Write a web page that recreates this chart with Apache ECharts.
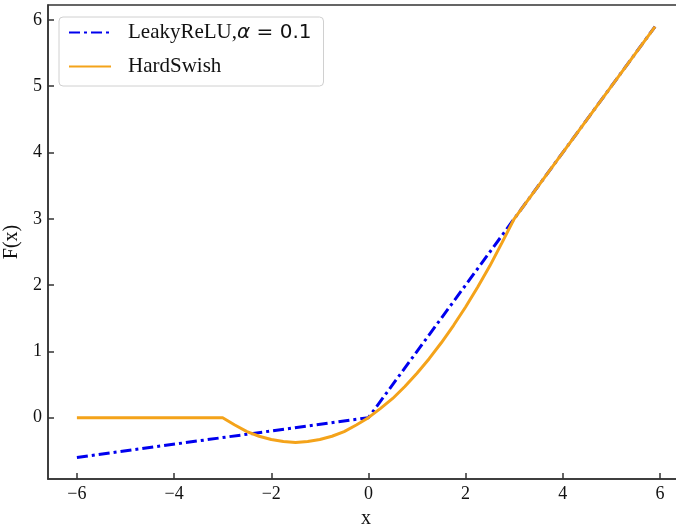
<!DOCTYPE html>
<html>
<head>
<meta charset="utf-8">
<script src="https://cdn.jsdelivr.net/npm/echarts@6/dist/echarts.min.js"></script>
<style>
	html, body { margin: 0; padding: 0; background: #fff; }
	#chart { width: 676px; height: 528px; }
</style>
</head>
<body>
<div id="chart"></div>
<script>
"use strict";

// LeakyReLU, alpha = 0.1 (straight pieces, read at the corners)
var leakyX = [-6, 0, 5.9];
var leakyY = [-0.6, 0, 5.9];

// HardSwish
var swishX = [-6, -3, -2.75, -2.5, -2.25, -2, -1.75, -1.5, -1.25, -1, -0.75, -0.5, -0.25,
	0, 0.25, 0.5, 0.75, 1, 1.25, 1.5, 1.75, 2, 2.25, 2.5, 2.75, 3, 5.9];
var swishY = [0, 0, -0.11, -0.21, -0.28, -0.33, -0.36, -0.375, -0.36, -0.33, -0.28, -0.21, -0.11,
	0, 0.14, 0.29, 0.47, 0.67, 0.89, 1.13, 1.39, 1.67, 1.97, 2.29, 2.64, 3, 5.9];

var xTicks = [-6, -4, -2, 0, 2, 4, 6];
var yTicks = [0, 1, 2, 3, 4, 5, 6];

var serif = 'Liberation Serif';
var axisColor = '#333';

function pairs(xs, ys) {
	var out = [];
	for (var i = 0; i < xs.length; i++) {
		out.push([xs[i], ys[i]]);
	}
	return out;
}

function fmtMinus(v) {
	return String(v).replace('-', '\u2212');
}

var myChart = echarts.init(document.getElementById('chart'), null, { renderer: 'canvas' });

myChart.setOption({
	animation: false,
	backgroundColor: '#fff',
	grid: {
		left: 48,
		top: 5,
		right: -8,
		bottom: 49,
		containLabel: false,
		outerBoundsMode: 'none',
		show: true,
		borderColor: axisColor,
		borderWidth: 1.5
	},
	legend: {
		orient: 'vertical',
		left: 59,
		top: 17,
		padding: [5, 12, 9, 9],
		itemGap: 13,
		itemWidth: 42,
		itemHeight: 14,
		backgroundColor: 'rgba(255,255,255,0.85)',
		borderColor: '#d0d0d0',
		borderWidth: 1,
		borderRadius: 4,
		// hide the marker dot, keep only the line sample
		itemStyle: { color: 'rgba(0,0,0,0)', borderWidth: 0 },
		formatter: function(name) {
			if (name.indexOf('α') >= 0) {
				return '{t|LeakyReLU,}{i|α}{m| = 0.1}';
			}
			return '{t|' + name + '}';
		},
		textStyle: {
			padding: [0, 0, 0, 12],
			rich: {
				t: { fontFamily: serif, fontSize: 21, color: '#111' },
				i: { fontFamily: 'DejaVu Sans', fontStyle: 'italic', fontSize: 20, color: '#111' },
				m: { fontFamily: 'DejaVu Sans', fontSize: 20, color: '#111' }
			}
		},
		data: ['LeakyReLU,α = 0.1', 'HardSwish']
	},
	xAxis: {
		type: 'value',
		min: -6.595,
		max: 6.495,
		name: 'x',
		nameLocation: 'middle',
		nameGap: 30,
		nameTextStyle: { fontFamily: serif, fontSize: 20, color: '#111' },
		splitLine: { show: false },
		axisLine: { show: true, onZero: false, lineStyle: { color: axisColor, width: 1.5 } },
		axisTick: {
			show: true,
			inside: true,
			length: 6,
			customValues: xTicks,
			lineStyle: { color: axisColor, width: 1.5 }
		},
		axisLabel: {
			margin: 6,
			customValues: xTicks,
			fontFamily: serif,
			fontSize: 18,
			color: '#111',
			formatter: fmtMinus
		}
	},
	yAxis: {
		type: 'value',
		min: -0.925,
		max: 6.225,
		name: 'F(x)',
		nameLocation: 'middle',
		nameGap: 23,
		nameTextStyle: { fontFamily: serif, fontSize: 20, color: '#111' },
		splitLine: { show: false },
		axisLine: { show: true, onZero: false, lineStyle: { color: axisColor, width: 1.5 } },
		axisTick: {
			show: true,
			inside: true,
			length: 6,
			customValues: yTicks,
			lineStyle: { color: axisColor, width: 1.5 }
		},
		axisLabel: {
			margin: 6,
			customValues: yTicks,
			fontFamily: serif,
			fontSize: 18,
			color: '#111',
			formatter: fmtMinus
		}
	},
	series: [
		{
			name: 'LeakyReLU,α = 0.1',
			type: 'line',
			symbol: 'none',
			data: pairs(leakyX, leakyY),
			itemStyle: { color: '#0000ee' },
			lineStyle: { color: '#0000ee', width: 3, type: [11, 4, 3, 4] }
		},
		{
			name: 'HardSwish',
			type: 'line',
			symbol: 'none',
			data: pairs(swishX, swishY),
			itemStyle: { color: '#f4a31a' },
			lineStyle: { color: '#f4a31a', width: 3 }
		}
	]
});
</script>
</body>
</html>
